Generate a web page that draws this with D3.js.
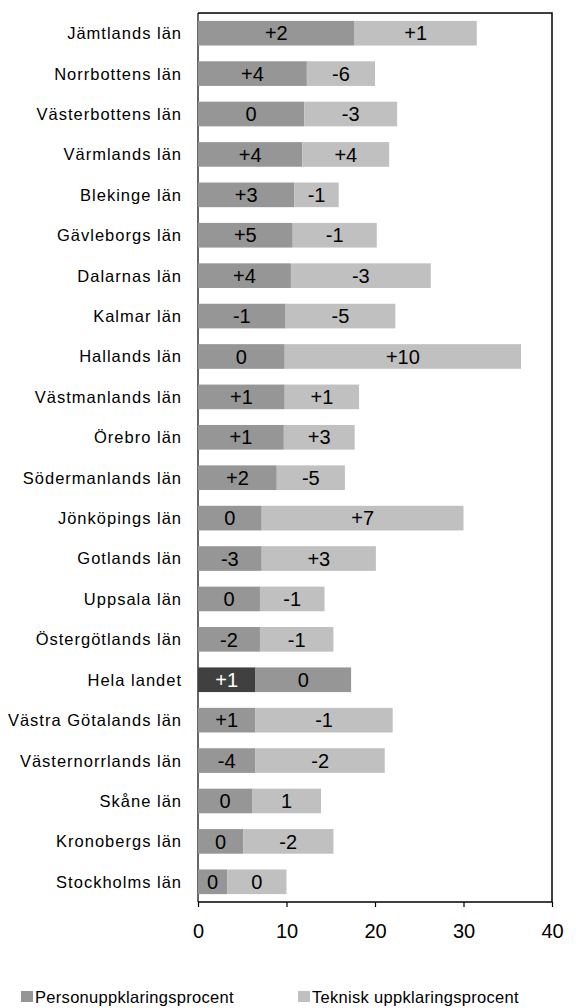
<!DOCTYPE html>
<html>
<head>
<meta charset="utf-8">
<script src="https://cdn.jsdelivr.net/npm/d3@7"></script>
<style>
  body { margin: 0; background: #fff; }
  text { font-family: Arial, "Liberation Sans", sans-serif; fill: #000; }
</style>
</head>
<body>
<script>
// categories, top to bottom
var categories = ["Jämtlands län", "Norrbottens län", "Västerbottens län", "Värmlands län",
  "Blekinge län", "Gävleborgs län", "Dalarnas län", "Kalmar län", "Hallands län",
  "Västmanlands län", "Örebro län", "Södermanlands län", "Jönköpings län", "Gotlands län",
  "Uppsala län", "Östergötlands län", "Hela landet", "Västra Götalands län",
  "Västernorrlands län", "Skåne län", "Kronobergs län", "Stockholms län"];

// personuppklaringsprocent
var person = [17.7, 12.3, 12.0, 11.8, 10.9, 10.7, 10.5, 9.9, 9.8, 9.8, 9.7, 8.9,
  7.2, 7.2, 7.0, 7.0, 6.5, 6.5, 6.5, 6.1, 5.1, 3.3];

// teknisk uppklaringsprocent
var teknisk = [13.8, 7.7, 10.5, 9.8, 5.0, 9.5, 15.8, 12.4, 26.7, 8.4, 8.0, 7.7,
  22.8, 12.9, 7.3, 8.3, 10.8, 15.5, 14.6, 7.8, 10.2, 6.7];

// change labels printed inside the bars
var personLabels = ["+2", "+4", "0", "+4", "+3", "+5", "+4", "-1", "0", "+1", "+1", "+2",
  "0", "-3", "0", "-2", "+1", "+1", "-4", "0", "0", "0"];
var tekniskLabels = ["+1", "-6", "-3", "+4", "-1", "-1", "-3", "-5", "+10", "+1", "+3", "-5",
  "+7", "+3", "-1", "-1", "0", "-1", "-2", "1", "-2", "0"];

var xTicks = [0, 10, 20, 30, 40];
var seriesNames = ["Personuppklaringsprocent", "Teknisk uppklaringsprocent"];

var width = 576, height = 1008;
var plot = {left: 198, right: 552, top: 13, bottom: 902};

var svg = d3.select("body").append("svg")
    .attr("width", width)
    .attr("height", height);

var x = d3.scaleLinear().domain([0, 40]).range([plot.left, plot.right]);
var y = d3.scaleBand().domain(categories)
    .range([plot.top, plot.bottom])
    .paddingInner(0.39)
    .paddingOuter(0.195);

var dark = "#969696", light = "#c0c0c0", total = "#404040";

// left axis line under the bars
svg.append("line")
    .attr("x1", plot.left).attr("x2", plot.left)
    .attr("y1", plot.top).attr("y2", plot.bottom)
    .attr("stroke", "#000").attr("stroke-width", 1.2);

var rows = categories.map(function(c, i) {
  return {cat: c, p: person[i], t: teknisk[i], pl: personLabels[i], tl: tekniskLabels[i],
          hela: c === "Hela landet"};
});

var g = svg.selectAll(".row").data(rows).enter().append("g").attr("class", "row");

g.append("rect")
    .attr("x", x(0))
    .attr("y", function(d) { return y(d.cat); })
    .attr("width", function(d) { return x(d.p) - x(0); })
    .attr("height", y.bandwidth())
    .attr("fill", function(d) { return d.hela ? total : dark; });

g.append("rect")
    .attr("x", function(d) { return x(d.p); })
    .attr("y", function(d) { return y(d.cat); })
    .attr("width", function(d) { return x(d.p + d.t) - x(d.p); })
    .attr("height", y.bandwidth())
    .attr("fill", function(d) { return d.hela ? dark : light; });

g.append("text")
    .attr("x", function(d) { return (x(0) + x(d.p)) / 2; })
    .attr("y", function(d) { return y(d.cat) + y.bandwidth() / 2; })
    .attr("dy", "0.36em")
    .attr("text-anchor", "middle")
    .style("font-size", "20px")
    .style("fill", function(d) { return d.hela ? "#fff" : "#000"; })
    .text(function(d) { return d.pl; });

g.append("text")
    .attr("x", function(d) { return (x(d.p) + x(d.p + d.t)) / 2; })
    .attr("y", function(d) { return y(d.cat) + y.bandwidth() / 2; })
    .attr("dy", "0.36em")
    .attr("text-anchor", "middle")
    .style("font-size", "20px")
    .text(function(d) { return d.tl; });

// category labels
g.append("text")
    .attr("x", 182)
    .attr("y", function(d) { return y(d.cat) + y.bandwidth() / 2; })
    .attr("dy", "0.36em")
    .attr("text-anchor", "end")
    .style("font-size", "16.5px")
    .style("letter-spacing", "1px")
    .text(function(d) { return d.cat; });

// frame: top, right, bottom
svg.append("path")
    .attr("d", "M" + plot.left + "," + plot.top + "H" + plot.right + "V" + plot.bottom + "H" + plot.left)
    .attr("fill", "none")
    .attr("stroke", "#000")
    .attr("stroke-width", 1.5);

// x axis
var xAxis = svg.append("g")
    .attr("transform", "translate(0," + plot.bottom + ")")
    .call(d3.axisBottom(x).tickValues(xTicks).tickSize(5).tickPadding(17));
xAxis.select(".domain").remove();
xAxis.selectAll("line").attr("stroke", "#000").attr("stroke-width", 1.2);
xAxis.selectAll("text")
    .style("font-family", "Arial, 'Liberation Sans', sans-serif")
    .style("font-size", "20px")
    .attr("fill", "#000");

// legend
var legendX = [21, 298];
var legendColors = [dark, light];
var lg = svg.selectAll(".legend").data(seriesNames).enter().append("g")
    .attr("class", "legend")
    .attr("transform", function(d, i) { return "translate(" + legendX[i] + ",991)"; });
lg.append("rect")
    .attr("width", 12).attr("height", 11)
    .attr("fill", function(d, i) { return legendColors[i]; });
lg.append("text")
    .attr("x", 14)
    .attr("y", 11.5)
    .style("font-size", "16.5px")
    .style("letter-spacing", "0.3px")
    .text(function(d) { return d; });
</script>
</body>
</html>
